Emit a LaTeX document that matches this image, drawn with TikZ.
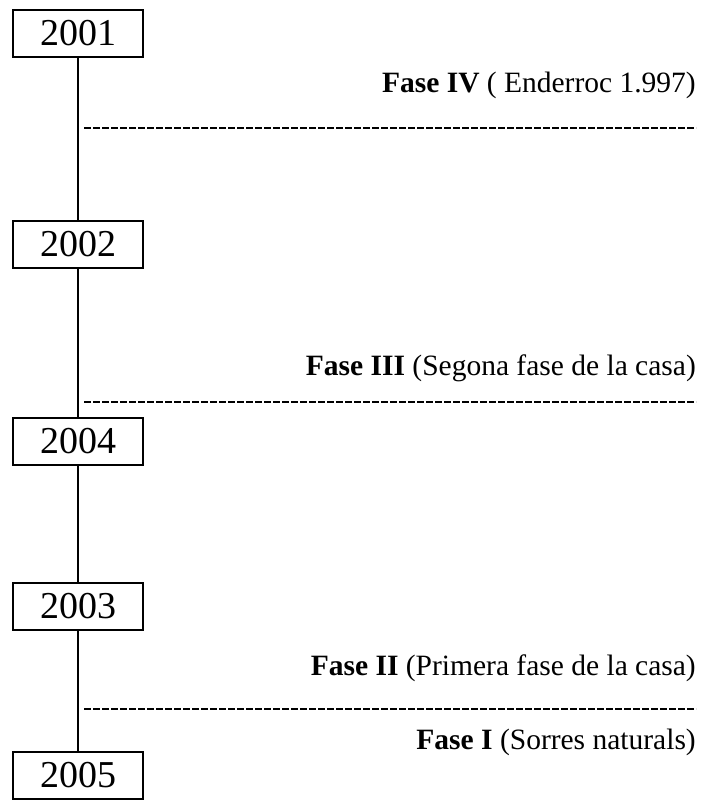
\documentclass[tikz,border=0pt]{standalone}
\usepackage{fontspec}
\setmainfont{Liberation Serif}

\begin{document}
\begin{tikzpicture}[x=1pt,y=-1pt,
	yearbox/.style={draw,line width=1.4pt,minimum width=130pt,minimum height=47pt,inner sep=0pt,font=\fontsize{38}{42}\selectfont},
	phase/.style={anchor=base east,inner sep=0pt,font=\fontsize{29.5}{34}\selectfont},
	border/.style={line width=2pt,dash pattern=on 6.5pt off 2.5pt}]
		\useasboundingbox (0,0) rectangle (706,802);
		% years
		\node[yearbox] (y2001) at (78,33.5) {2001};
		\node[yearbox] (y2002) at (78,244.5) {2002};
		\node[yearbox] (y2004) at (78,441.5) {2004};
		\node[yearbox] (y2003) at (78,606.5) {2003};
		\node[yearbox] (y2005) at (78,775.5) {2005};
		\draw[line width=1.4pt] (y2001) -- (y2002) -- (y2004) -- (y2003) -- (y2005);
		% phases
		\node[phase] (f4) at (696,93) {\textbf{Fase IV} ( Enderroc 1.997)};
		\node[phase] (f3) at (696,375) {\textbf{Fase III} (Segona fase de la casa)};
		\node[phase] (f2) at (696,675) {\textbf{Fase II} (Primera fase de la casa)};
		\node[phase] (f1) at (696,749) {\textbf{Fase I} (Sorres naturals)};
		\draw[border] (84,128) -- (696,128);
		\draw[border] (84,402) -- (696,402);
		\draw[border] (84,709) -- (696,709);
	\end{tikzpicture}
\end{document}
